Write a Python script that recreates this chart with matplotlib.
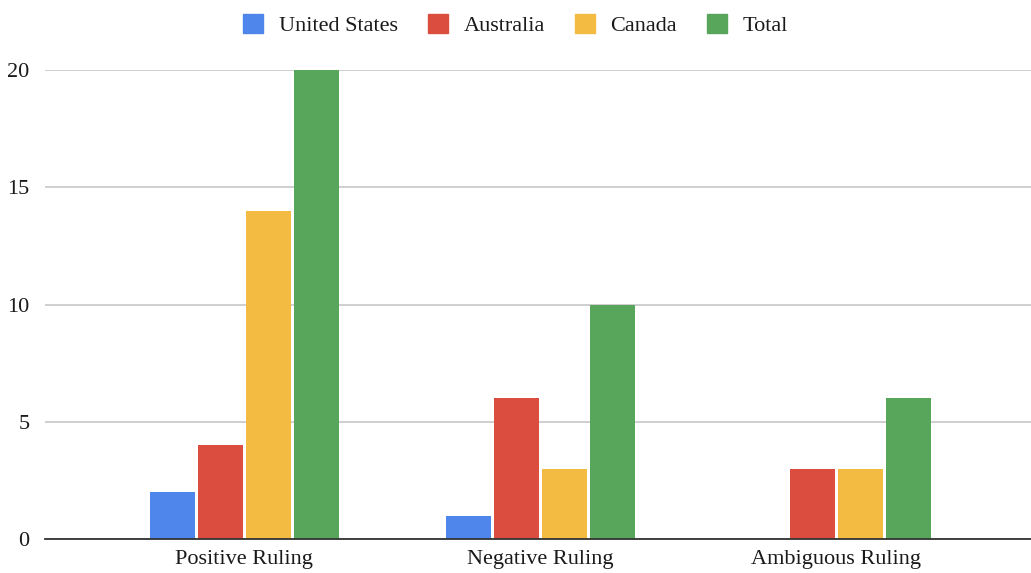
import numpy as np
from matplotlib import pyplot as plt
from matplotlib.patches import Patch

categories = ['Positive Ruling', 'Negative Ruling', 'Ambiguous Ruling']
series_names = ['United States', 'Australia', 'Canada', 'Total']
united_states = [2, 1, 0]
australia = [4, 6, 3]
canada = [14, 3, 3]
total = [20, 10, 6]
y_ticks = [0, 5, 10, 15, 20]

colors = ['#4f86ec', '#db4d3f', '#f3bb42', '#58a65c']

plt.rcParams['font.family'] = ['Liberation Serif', 'DejaVu Serif']
plt.rcParams['font.size'] = 16

fig = plt.figure(figsize=(10.31, 5.73), dpi=100)
ax = fig.add_axes([45 / 1031, 34 / 573, 986 / 1031, 469 / 573])

x = np.arange(len(categories))
step = 48 / 296
width = 45 / 296
for i, (name, vals) in enumerate(zip(series_names, [united_states, australia, canada, total])):
    ax.bar(x + (i - 1.5) * step + 0.003, vals, width=width, color=colors[i], zorder=3, label=name)

ax.set_xlim(-0.672, 2.659)
ax.set_ylim(0, 20)
ax.set_yticks(y_ticks)
ax.set_xticks(x)
ax.set_xticklabels(categories)
ax.tick_params(axis='both', length=0, colors='#1a1a1a', labelsize=16)
ax.tick_params(axis='y', pad=11)
ax.tick_params(axis='x', pad=8)
ax.yaxis.grid(True, color='#cccccc', linewidth=1.3, zorder=0)
for s in ['top', 'right', 'left']:
    ax.spines[s].set_visible(False)
ax.spines['bottom'].set_color('#333333')
ax.spines['bottom'].set_linewidth(1.3)
ax.spines['bottom'].set_zorder(4)

handles = [Patch(facecolor=c, edgecolor=c) for c in colors]
fig.legend(handles, series_names, loc='center', bbox_to_anchor=(0.5, 1 - 25 / 573), ncol=4,
           frameon=False, handlelength=0.9, handleheight=0.9, columnspacing=1.35,
           handletextpad=0.7, fontsize=16, labelcolor='#1a1a1a')

plt.savefig('out.png', dpi=100)
